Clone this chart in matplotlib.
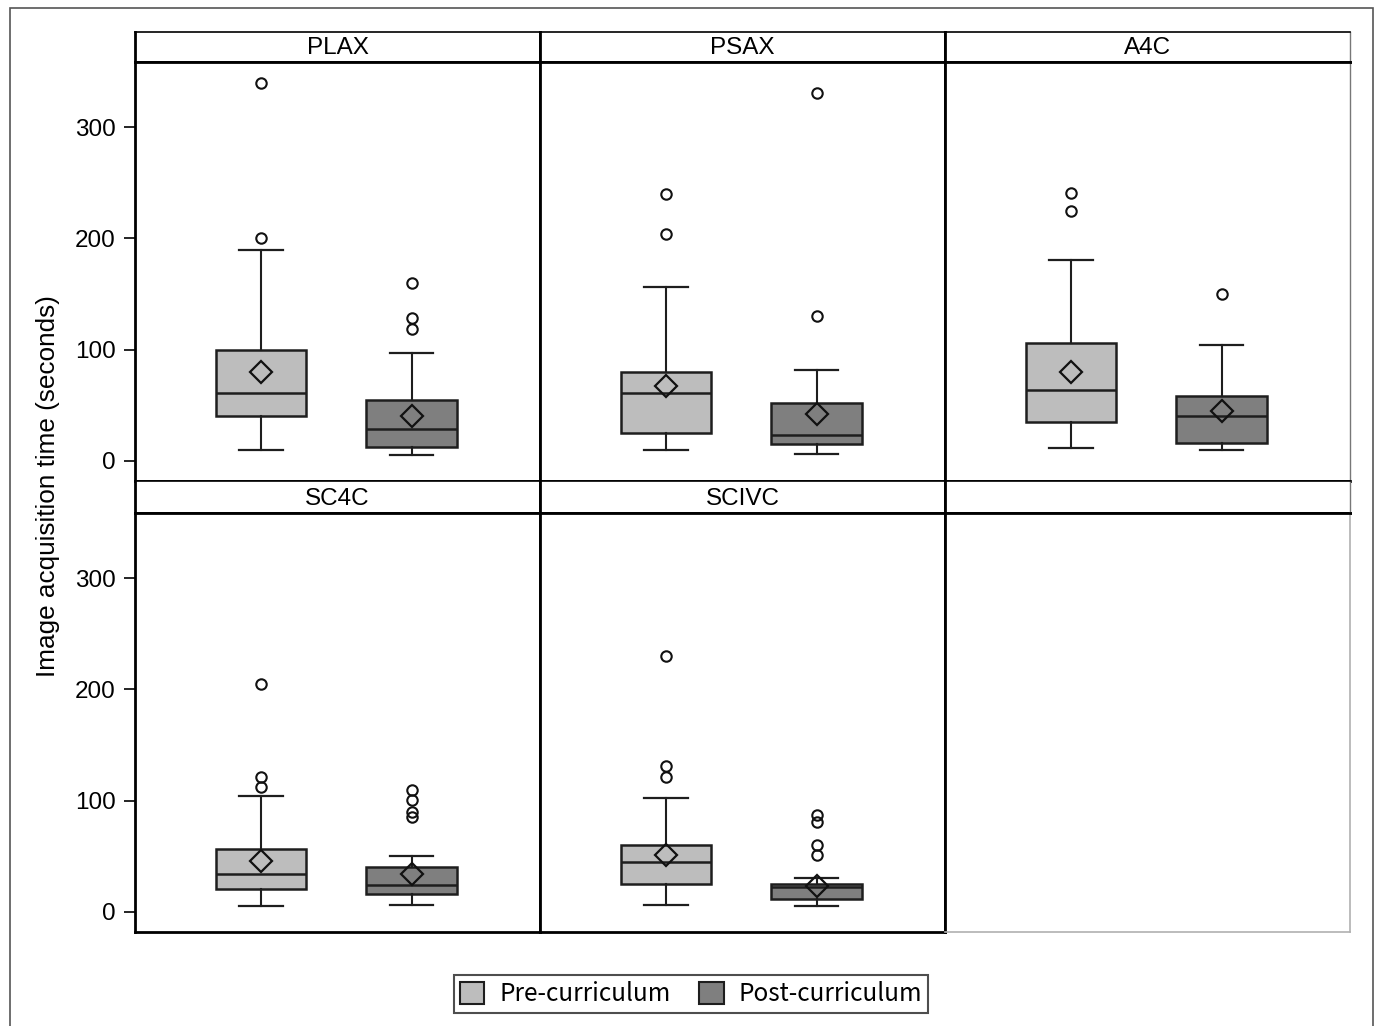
import matplotlib.pyplot as plt
from matplotlib.patches import Patch, Rectangle

plt.rcParams['font.family'] = ['Liberation Sans', 'DejaVu Sans']

# 数据：各切面的箱线图统计量
views = ['PLAX', 'PSAX', 'A4C', 'SC4C', 'SCIVC']
groups = ['Pre-curriculum', 'Post-curriculum']

pre_lo = [10, 10, 12, 5, 6]
pre_q1 = [40, 25, 35, 20.5, 25]
pre_med = [61, 61, 64, 34, 45]
pre_q3 = [100, 80, 106, 57, 60]
pre_hi = [190, 156, 181, 104, 102]
pre_mean = [80, 67, 80, 46, 51]
pre_out = [[340, 200], [240, 204], [241, 225], [205, 121, 112], [230, 131, 121]]

post_lo = [5, 6, 10, 6, 5]
post_q1 = [13, 15, 16.5, 16.5, 12]
post_med = [29, 23, 40, 24, 22]
post_q3 = [55, 52, 58, 40, 25]
post_hi = [97, 82, 104, 50, 30.5]
post_mean = [40, 42, 45, 34.5, 23]
post_out = [[160, 128.5, 119], [331, 130], [150], [110, 100.5, 90, 85.5], [87, 81, 60, 51]]

yticks = [0, 100, 200, 300]
colors = ['#bdbdbd', '#7f7f7f']
edge = '#1e1e1e'

W, H = 1375, 1026
fig = plt.figure(figsize=(W / 100, H / 100), dpi=100)


def px_axes(x0, y0, x1, y1):
    return fig.add_axes([x0 / W, 1 - y1 / H, (x1 - x0) / W, (y1 - y0) / H])


col_x = [135, 540, 945, 1350]
head_y = [(32, 62), (481, 513)]
plot_y = [(62, 481), (513, 932)]


def stats(i, lo, q1, med, q3, hi, mean, out):
    return dict(whislo=lo[i], q1=q1[i], med=med[i], q3=q3[i], whishi=hi[i],
                mean=mean[i], fliers=out[i])


for k in range(6):
    r, c = divmod(k, 3)
    x0, x1 = col_x[c], col_x[c + 1]
    hax = px_axes(x0, head_y[r][0], x1, head_y[r][1])
    ax = px_axes(x0, plot_y[r][0], x1, plot_y[r][1])
    hax.set_xticks([])
    hax.set_yticks([])
    for s in hax.spines.values():
        s.set_linewidth(2.0)
    hax.spines['top'].set_linewidth(1.2)

    for s in ax.spines.values():
        s.set_linewidth(2.0)
    if c == 2:
        ax.spines['right'].set_linewidth(1.0)
        ax.spines['right'].set_color('#777777')
        hax.spines['right'].set_linewidth(1.0)
        hax.spines['right'].set_color('#777777')

    if k == 5:
        ax.set_xticks([])
        ax.set_yticks([])
        ax.spines['right'].set_color('#b0b0b0')
        ax.spines['bottom'].set_color('#b0b0b0')
        ax.spines['right'].set_linewidth(1.2)
        ax.spines['bottom'].set_linewidth(1.2)
        continue

    hax.text(0.5, 0.45, views[k], ha='center', va='center', fontsize=17.5,
             transform=hax.transAxes)

    bstats = [stats(k, pre_lo, pre_q1, pre_med, pre_q3, pre_hi, pre_mean, pre_out),
              stats(k, post_lo, post_q1, post_med, post_q3, post_hi, post_mean, post_out)]
    bp = ax.bxp(bstats, positions=[1, 2], widths=0.6, capwidths=0.29,
                showmeans=True, patch_artist=True,
                boxprops=dict(edgecolor=edge, linewidth=1.8),
                medianprops=dict(color=edge, linewidth=1.8),
                whiskerprops=dict(color=edge, linewidth=1.5),
                capprops=dict(color=edge, linewidth=1.6),
                flierprops=dict(marker='o', markerfacecolor='none', markeredgecolor='#111111',
                                markersize=7.5, markeredgewidth=1.5),
                meanprops=dict(marker='D', markerfacecolor='none', markeredgecolor='#111111',
                               markersize=11, markeredgewidth=1.6))
    for patch, col in zip(bp['boxes'], colors):
        patch.set_facecolor(col)

    ax.set_xlim(0.16, 2.855)
    ax.set_ylim(-18, 358.5)
    ax.set_xticks([])

    if c == 0:
        ax.set_yticks(yticks)
        ax.tick_params(axis='y', direction='out', length=8, width=1.2, pad=6,
                       labelsize=17.5)
    else:
        ax.set_yticks([])

fig.text(48 / W, 1 - 486 / H, 'Image acquisition time (seconds)', rotation=90,
         ha='center', va='center', fontsize=18.8)

handles = [Patch(facecolor=colors[i], edgecolor=edge, linewidth=1.5, label=groups[i])
           for i in range(2)]
leg = fig.legend(handles=handles, loc='center', bbox_to_anchor=(691 / W, 1 - 994 / H),
                 ncol=2, frameon=True, fancybox=False, handlelength=1.0,
                 handleheight=1.0, handletextpad=0.6, columnspacing=1.2,
                 borderpad=0.25, prop={'family': ['Noto Sans CJK JP', 'DejaVu Sans'], 'size': 17.5})
leg.get_frame().set_edgecolor('#222222')
leg.get_frame().set_linewidth(1.5)

# 外框
fig.patches.append(Rectangle((10 / W, -0.05), (1373 - 10) / W, 1.05 - 8 / H,
                             transform=fig.transFigure, fill=False,
                             edgecolor='#555555', linewidth=1.2))

fig.savefig('out.png', dpi=100)
